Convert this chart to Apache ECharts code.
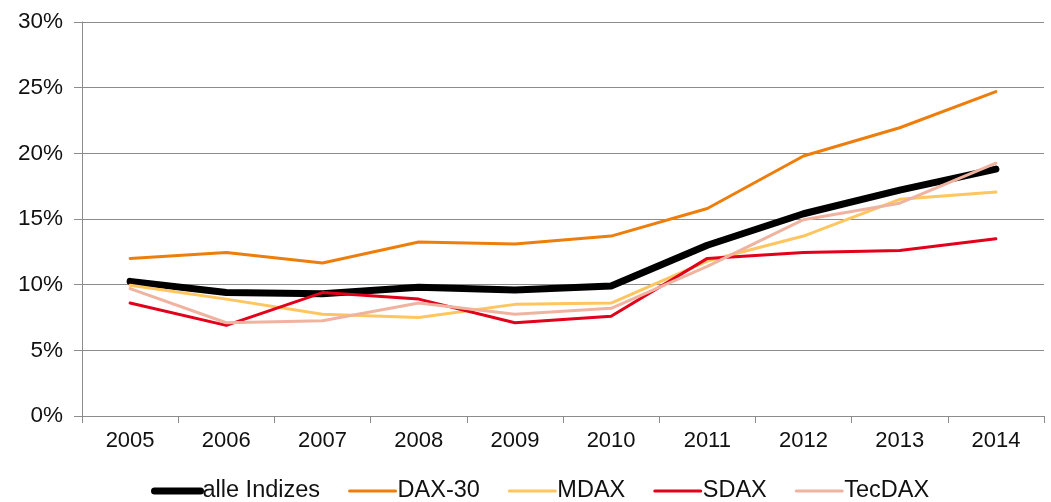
<!DOCTYPE html>
<html>
<head>
<meta charset="utf-8">
<script src="https://cdn.jsdelivr.net/npm/echarts@6/dist/echarts.min.js"></script>
<style>html,body{margin:0;padding:0;background:#fff}#c{width:1051px;height:502px}</style>
</head>
<body>
<div id="c"></div>
<script>
const years = ['2005','2006','2007','2008','2009','2010','2011','2012','2013','2014'];
const alleIndizes = [10.25, 9.4, 9.3, 9.8, 9.6, 9.9, 13.0, 15.4, 17.2, 18.8];
const dax30 = [12.0, 12.45, 11.65, 13.25, 13.1, 13.7, 15.8, 19.8, 21.95, 24.7];
const mdax = [9.95, 8.9, 7.75, 7.5, 8.5, 8.6, 11.8, 13.7, 16.5, 17.05];
const sdax = [8.6, 6.9, 9.4, 8.9, 7.1, 7.6, 12.0, 12.45, 12.6, 13.5];
const tecdax = [9.7, 7.1, 7.25, 8.6, 7.75, 8.2, 11.4, 14.95, 16.2, 19.25];
const yTicks = [0, 5, 10, 15, 20, 25, 30];

const font = 'Liberation Sans, Arial, sans-serif';
const gray = '#8c8c8c';
const chart = echarts.init(document.getElementById('c'));
function s(name, data, color, width) {
  return { name, type: 'line', data, symbol: 'none', showSymbol: false,
    lineStyle: { color, width, cap: 'round', join: 'round' }, itemStyle: { color } };
}
function li(name, width) {
  return { name, lineStyle: { width, cap: 'round' }, itemStyle: { opacity: 0 } };
}
chart.setOption({
  animation: false,
  grid: { left: 82, right: 7, top: 22, bottom: 86, containLabel: false },
  legend: {
    left: 151, top: 479, padding: 0, itemWidth: 46, itemHeight: 14, itemGap: 28,
    itemStyle: { opacity: 0 },
    textStyle: { fontFamily: font, fontSize: 23.5, color: '#111', padding: [0,0,0,-3] },
    data: [li('alle Indizes', 7), li('DAX-30', 3), li('MDAX', 3), li('SDAX', 3), li('TecDAX', 3)]
  },
  xAxis: {
    type: 'category', data: years, boundaryGap: true,
    axisLine: { lineStyle: { color: gray, width: 1 } },
    axisTick: { show: true, length: 7, lineStyle: { color: gray } },
    axisLabel: { fontFamily: font, fontSize: 22, color: '#111', margin: 14 }
  },
  yAxis: {
    type: 'value', min: yTicks[0], max: yTicks[yTicks.length-1], interval: 5,
    axisLine: { show: true, lineStyle: { color: gray, width: 1 } },
    axisTick: { show: true, length: 8, lineStyle: { color: gray } },
    axisLabel: { fontFamily: font, fontSize: 22.5, color: '#111', margin: 19, formatter: v => v + '%' },
    splitLine: { show: true, lineStyle: { color: gray, width: 1 } }
  },
  series: [
    s('alle Indizes', alleIndizes, '#000000', 7),
    s('DAX-30', dax30, '#EE7E0C', 3),
    s('MDAX', mdax, '#FFC55E', 3),
    s('SDAX', sdax, '#E2001A', 3),
    s('TecDAX', tecdax, '#F0B3A0', 3)
  ]
});
</script>
</body>
</html>
